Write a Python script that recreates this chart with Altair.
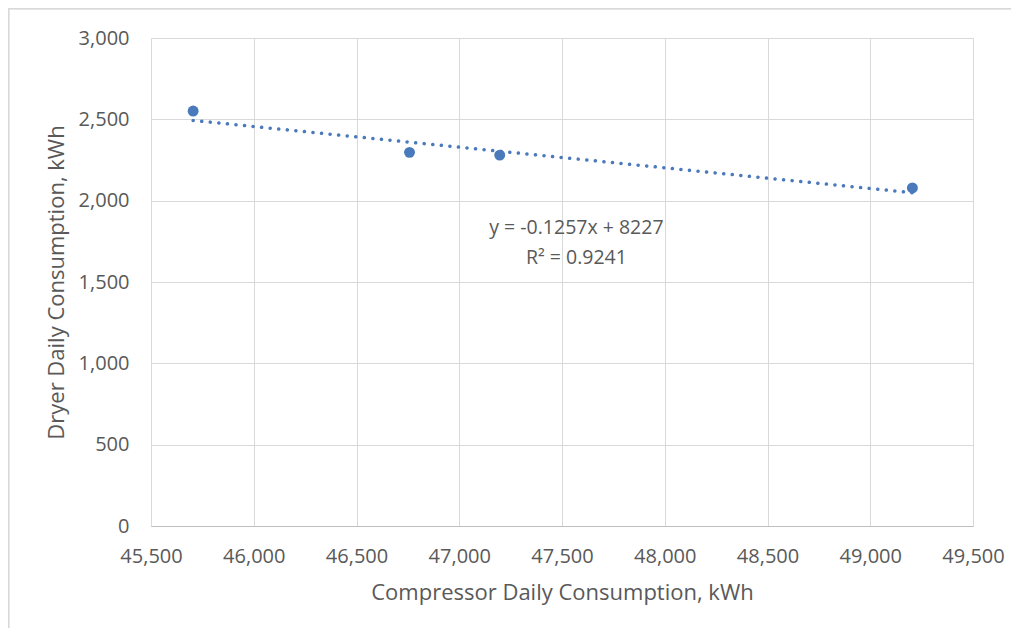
import altair as alt
import pandas as pd

# Data
compressor_kwh = [45705, 46758, 47197, 49205]
dryer_kwh = [2551, 2297, 2280, 2078]

eq_lines = ["y = -0.1257x + 8227", "R² = 0.9241"]
eq_x = [47570, 47570]
eq_y = [1832, 1650]

x_ticks = [45500, 46000, 46500, 47000, 47500, 48000, 48500, 49000, 49500]
y_ticks = [0, 500, 1000, 1500, 2000, 2500, 3000]

df = pd.DataFrame({"x": compressor_kwh, "y": dryer_kwh})
ann = pd.DataFrame({"text": eq_lines, "x": eq_x, "y": eq_y})

BLUE = "#4a7abb"
GRAY_TXT = "#595959"
GRID = "#d9d9d9"
FONT = "Open Sans"

xscale = alt.Scale(domain=[45500, 49500], nice=False, zero=False)
yscale = alt.Scale(domain=[0, 3000], nice=False)

xaxis = alt.Axis(
    title="Compressor Daily Consumption, kWh", values=x_ticks, format=",d",
    grid=True, gridColor=GRID, ticks=False, domainColor="#bfbfbf",
    labelFont=FONT, labelFontSize=20, labelColor=GRAY_TXT, labelPadding=20,
    labelFlush=False, labelOverlap=False,
    titleFont=FONT, titleFontSize=22, titleColor=GRAY_TXT, titleFontWeight="normal",
    titlePadding=16,
)
yaxis = alt.Axis(
    title="Dryer Daily Consumption, kWh", values=y_ticks, format=",d",
    grid=True, gridColor=GRID, ticks=False, domain=False,
    labelFont=FONT, labelFontSize=20, labelColor=GRAY_TXT, labelPadding=22,
    labelFlush=False, labelOverlap=False,
    titleFont=FONT, titleFontSize=22, titleColor=GRAY_TXT, titleFontWeight="normal",
    titlePadding=10,
)

base = alt.Chart(df)

points = base.mark_circle(size=120, color=BLUE, opacity=1).encode(
    x=alt.X("x:Q", scale=xscale, axis=xaxis),
    y=alt.Y("y:Q", scale=yscale, axis=yaxis),
)

trend = base.transform_regression("x", "y", method="linear").mark_line(
    color=BLUE, strokeWidth=3.5, strokeDash=[0.1, 8.5], strokeCap="round"
).encode(
    x=alt.X("x:Q", scale=xscale),
    y=alt.Y("y:Q", scale=yscale),
)

text = alt.Chart(ann).mark_text(
    font=FONT, fontSize=19.5, color=GRAY_TXT, align="center", baseline="middle"
).encode(
    x=alt.X("x:Q", scale=xscale),
    y=alt.Y("y:Q", scale=yscale),
    text="text:N",
)

border_top = alt.Chart(df).mark_rule(color="#d9d9d9", strokeWidth=1.5).encode(
    x=alt.value(-143), x2=alt.value(900), y=alt.value(-29.5)
)
border_left = alt.Chart(df).mark_rule(color="#d9d9d9", strokeWidth=1.5).encode(
    x=alt.value(-142.5), y=alt.value(-30), y2=alt.value(620)
)

chart = alt.layer(border_top, border_left, trend, points, text).properties(
    width=822, height=488,
    autosize=alt.AutoSizeParams(type="none"),
    padding={"left": 143, "top": 30, "right": 38, "bottom": 102},
).configure_view(stroke=None)

chart.save("out.html", embed_options={"renderer": "svg", "actions": False})
